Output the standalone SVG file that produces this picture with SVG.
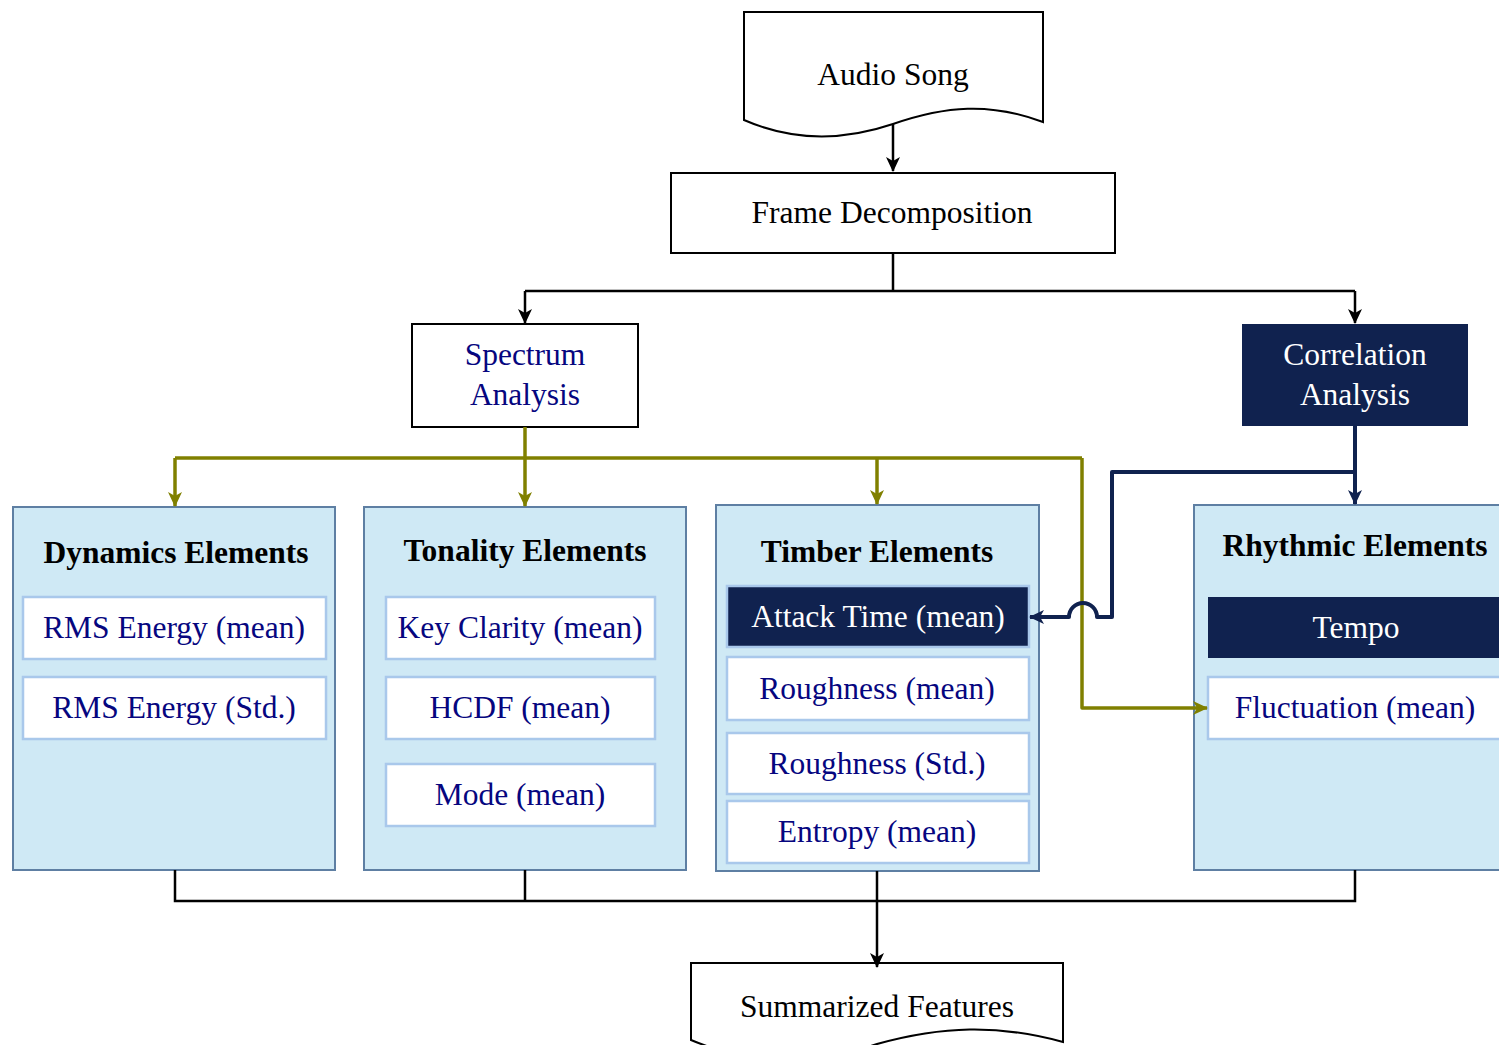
<svg xmlns="http://www.w3.org/2000/svg" width="1499" height="1045" viewBox="0 0 1499 1045">
  <style>
    text { font-family: "Liberation Serif", "Times New Roman", serif; font-size: 31.5px; text-anchor: middle; }
    .plain { fill: #ffffff; stroke: #000000; stroke-width: 2; }
    .dark { fill: #10224f; stroke: none; }
    .panel { fill: #cfe9f5; stroke: #5e7fa3; stroke-width: 2; }
    .item { fill: #ffffff; stroke: #a9c8eb; stroke-width: 2.5; }
    .item-dark { fill: #10224f; stroke: #a9c8eb; stroke-width: 2.5; }
    .title { font-weight: bold; fill: #000000; }
    .blue { fill: #06067f; }
    .white { fill: #ffffff; }
    .black { fill: #000000; }
    .c-black { fill: none; stroke: #000000; stroke-width: 2.5; }
    .c-olive { fill: none; stroke: #808000; stroke-width: 3.5; stroke-linejoin: round; }
    .c-navy { fill: none; stroke: #10224f; stroke-width: 4; stroke-linejoin: round; }
  </style>
  <defs>
    <marker id="arrow-black" markerUnits="userSpaceOnUse" markerWidth="16" markerHeight="16" viewBox="0 0 16 16" refX="14" refY="8" orient="auto">
      <path d="M0,1 L15,8 L0,15 L4,8 Z" fill="#000000"/>
    </marker>
    <marker id="arrow-olive" markerUnits="userSpaceOnUse" markerWidth="16" markerHeight="16" viewBox="0 0 16 16" refX="14" refY="8" orient="auto">
      <path d="M0,1 L15,8 L0,15 L4,8 Z" fill="#808000"/>
    </marker>
    <marker id="arrow-navy" markerUnits="userSpaceOnUse" markerWidth="16" markerHeight="16" viewBox="0 0 16 16" refX="14" refY="8" orient="auto">
      <path d="M0,1 L15,8 L0,15 L4,8 Z" fill="#10224f"/>
    </marker>
  </defs>

  <rect width="1499" height="1045" fill="#ffffff"/>

  <!-- feature group panels -->
  <g id="dynamics">
    <rect class="panel" x="13" y="507" width="322" height="363"/>
    <text class="title" x="176" y="563">Dynamics Elements</text>
    <rect class="item" x="23" y="597" width="303" height="62"/>
    <text class="blue" x="174" y="638">RMS Energy (mean)</text>
    <rect class="item" x="23" y="677" width="303" height="62"/>
    <text class="blue" x="174" y="718">RMS Energy (Std.)</text>
  </g>

  <g id="tonality">
    <rect class="panel" x="364" y="507" width="322" height="363"/>
    <text class="title" x="525" y="561">Tonality Elements</text>
    <rect class="item" x="386" y="597" width="269" height="62"/>
    <text class="blue" x="520" y="638">Key Clarity (mean)</text>
    <rect class="item" x="386" y="677" width="269" height="62"/>
    <text class="blue" x="520" y="718">HCDF (mean)</text>
    <rect class="item" x="386" y="764" width="269" height="62"/>
    <text class="blue" x="520" y="805">Mode (mean)</text>
  </g>

  <g id="timber">
    <rect class="panel" x="716" y="505" width="323" height="366"/>
    <text class="title" x="877" y="562">Timber Elements</text>
    <rect class="item-dark" x="727" y="586" width="302" height="61"/>
    <text class="white" x="878" y="627">Attack Time (mean)</text>
    <rect class="item" x="727" y="657" width="302" height="63"/>
    <text class="blue" x="877" y="699">Roughness (mean)</text>
    <rect class="item" x="727" y="733" width="302" height="61"/>
    <text class="blue" x="877" y="774">Roughness (Std.)</text>
    <rect class="item" x="727" y="801" width="302" height="62"/>
    <text class="blue" x="877" y="842">Entropy (mean)</text>
  </g>

  <g id="rhythmic">
    <rect class="panel" x="1194" y="505" width="330" height="365"/>
    <text class="title" x="1355" y="556">Rhythmic Elements</text>
    <rect class="dark" x="1208" y="597" width="310" height="61"/>
    <text class="white" x="1356" y="638">Tempo</text>
    <rect class="item" x="1208" y="677" width="310" height="62"/>
    <text class="blue" x="1355" y="718">Fluctuation (mean)</text>
  </g>

  <!-- pipeline nodes -->
  <g id="audio-song">
    <path class="plain" d="M744,12 H1043 V122 C990,102 945,106 893,124 C840,142 790,140 744,120 Z"/>
    <text class="black" x="893" y="85">Audio Song</text>
  </g>

  <g id="frame-decomposition">
    <rect class="plain" x="671" y="173" width="444" height="80"/>
    <text class="black" x="892" y="223">Frame Decomposition</text>
  </g>

  <g id="spectrum-analysis">
    <rect class="plain" x="412" y="324" width="226" height="103"/>
    <text class="blue" x="525" y="365">Spectrum</text>
    <text class="blue" x="525" y="405">Analysis</text>
  </g>

  <g id="correlation-analysis">
    <rect class="dark" x="1242" y="324" width="226" height="102"/>
    <text class="white" x="1355" y="365">Correlation</text>
    <text class="white" x="1355" y="405">Analysis</text>
  </g>

  <g id="summarized-features">
    <path class="plain" d="M691,963 H1063 V1042 C997,1024 942,1026 877,1044 C810,1066 748,1064 691,1040 Z"/>
    <text class="black" x="877" y="1017">Summarized Features</text>
  </g>

  <!-- connectors -->
  <g id="connectors">
    <!-- audio to frames -->
    <path class="c-black" d="M893,124 V171" marker-end="url(#arrow-black)"/>
    <!-- frames to the two analyses -->
    <path class="c-black" d="M893,253 V291"/>
    <path class="c-black" d="M525,291 H1355"/>
    <path class="c-black" d="M525,291 V323" marker-end="url(#arrow-black)"/>
    <path class="c-black" d="M1355,291 V323" marker-end="url(#arrow-black)"/>

    <!-- spectrum analysis fan-out -->
    <path class="c-olive" d="M175,458 H1082"/>
    <path class="c-olive" d="M525,427 V506" marker-end="url(#arrow-olive)"/>
    <path class="c-olive" d="M175,458 V506" marker-end="url(#arrow-olive)"/>
    <path class="c-olive" d="M877,458 V504" marker-end="url(#arrow-olive)"/>
    <path class="c-olive" d="M1082,458 V708 H1207" marker-end="url(#arrow-olive)"/>

    <!-- correlation analysis fan-out, hopping over the olive line -->
    <path class="c-navy" d="M1355,426 V504" marker-end="url(#arrow-navy)"/>
    <path class="c-navy" d="M1355,472 H1112 V617 H1097 A14,14 0 0 0 1069,617 H1030" marker-end="url(#arrow-navy)"/>

    <!-- panels to summary -->
    <path class="c-black" d="M175,870 V901 H1355 V870"/>
    <path class="c-black" d="M525,870 V901"/>
    <path class="c-black" d="M877,871 V967" marker-end="url(#arrow-black)"/>
  </g>
</svg>
